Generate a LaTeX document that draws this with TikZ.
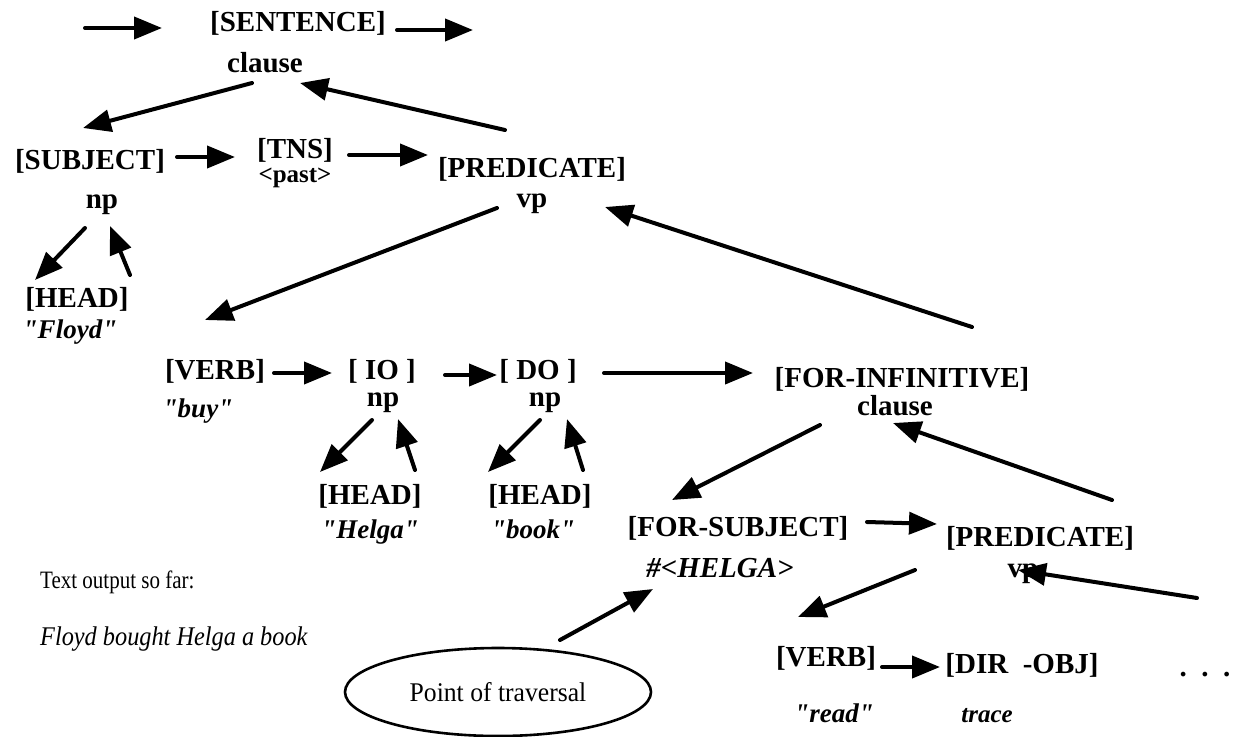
\documentclass[tikz,border=0pt]{standalone}
\usepackage{fontspec}
\setmainfont{Liberation Serif}[Ligatures=TeXOff]
\usetikzlibrary{arrows.meta,shapes.geometric}
\tikzset{
  lbl/.style={inner sep=0pt, anchor=base, font=\fontsize{29}{32}\selectfont\bfseries},
  sm/.style={inner sep=0pt, anchor=base, font=\fontsize{25}{28}\selectfont\bfseries},
  val/.style={inner sep=0pt, anchor=base, font=\fontsize{27}{30}\selectfont\bfseries\itshape},
  plain/.style={inner sep=0pt, anchor=base west, font=\fontsize{25}{28}\selectfont},
  arr/.style={line width=4pt, line cap=round, -{Triangle[length=28pt,width=22pt]}},
  oval/.style={draw, line width=2.6pt, ellipse, minimum width=306pt, minimum height=88pt, inner sep=0pt}
}
\begin{document}
\begin{tikzpicture}[x=1pt,y=-1pt]
\useasboundingbox (0,0) rectangle (1239,736);
% nodes
\node[lbl] (sent) at (298,31) {[SENTENCE]};
\node[lbl] (cl1) at (265,72) {clause};
\node[lbl] (subj) at (90,169) {[SUBJECT]};
\node[lbl] (tns) at (295,158) {[TNS]};
\node[sm] (past) at (295,182) {<past>};
\node[lbl] (pred1) at (532,177) {[PREDICATE]};
\node[lbl] (vp1) at (532,207) {vp};
\node[lbl] (np1) at (102,208) {np};
\node[lbl] (head1) at (77,307) {[HEAD]};
\node[val] (floyd) at (70,338) {"Floyd"};
\node[lbl] (verb1) at (215,379) {[VERB]};
\node[val] (buy) at (198,417) {"buy"};
\node[lbl] (io) at (382,379) {[ IO ]};
\node[lbl] (np2) at (383,406) {np};
\node[lbl] (do) at (538,379) {[ DO ]};
\node[lbl] (np3) at (545,406) {np};
\node[lbl] (forinf) at (902,387) {[FOR-INFINITIVE]};
\node[lbl] (cl2) at (895,415) {clause};
\node[lbl] (head2) at (370,504) {[HEAD]};
\node[val] (helga) at (370,538) {"Helga"};
\node[lbl] (head3) at (540,504) {[HEAD]};
\node[val] (book) at (533,538) {"book"};
\node[lbl] (forsubj) at (738,536) {[FOR-SUBJECT]};
\node[val, font=\fontsize{29}{32}\selectfont\bfseries\itshape] (hhelga) at (720,577) {\#<HELGA>};
\node[lbl] (pred2) at (1040,546) {[PREDICATE]};
\node[lbl] (vp2) at (1023,577) {vp};
\node[lbl] (verb2) at (826,666) {[VERB]};
\node[lbl] (dirobj) at (1022,673) {[DIR\ \ -OBJ]};
\node[lbl] (dots) at (1205,676) {.\ \ .\ \ .};
\node[val] (read) at (834,722) {"read"};
\node[val, font=\fontsize{25}{28}\selectfont\bfseries\itshape] (trace) at (987,722) {trace};
\node[plain] (tout) at (40,588) {\scalebox{0.84}[1]{Text output so far:}};
\node[plain, font=\fontsize{27}{30}\selectfont\itshape] (sofar) at (40,645) {\scalebox{0.9}[1]{Floyd bought Helga a book}};
\node[oval] (pot) at (498,692) {};
\node[inner sep=0pt, anchor=base, font=\fontsize{27}{30}\selectfont] (pottxt) at (498,701) {\scalebox{0.95}[1]{Point of traversal}};
% arrow end points
\foreach \n/\x/\y in {
 a1s/85/28, a1e/162/28, a2s/397/30, a2e/473/30,
 a3s/252/83, a3e/83/128, a4s/505/130, a4e/300/83,
 a5s/177/157, a5e/235/157, a6s/349/155, a6e/428/155,
 a7s/85/228, a7e/35/280, a8s/130/275, a8e/110/226,
 a9s/497/208, a9e/205/320, a10s/972/327, a10e/605/207,
 a11s/274/373, a11e/332/373, a12s/445/375, a12e/497/375,
 a13s/604/373, a13e/753/373, a14s/372/420, a14e/320/472,
 a15s/415/470, a15e/398/419, a16s/540/420, a16e/488/472,
 a17s/583/470, a17e/567/419, a18s/820/425, a18e/672/500,
 a19s/1112/500, a19e/893/423, a20s/867/522, a20e/937/524,
 a21s/915/570, a21e/798/617, a22s/1197/598, a22e/1018/570,
 a23s/882/667, a23e/940/667, a24s/560/640, a24e/653/589}
 {\coordinate (\n) at (\x,\y);}
\foreach \i in {1,...,24} {\draw[arr] (a\i s) -- (a\i e);}
\end{tikzpicture}
\end{document}
